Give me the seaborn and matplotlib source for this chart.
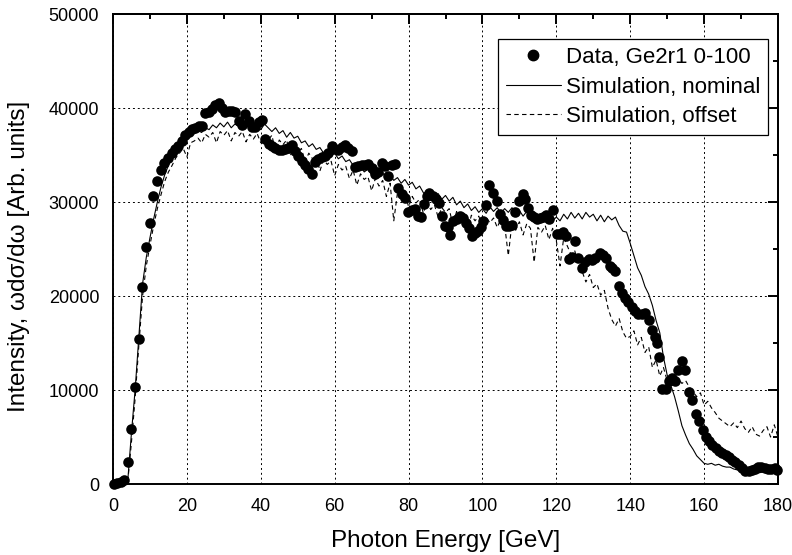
import numpy as np
import pandas as pd
import matplotlib
matplotlib.use("Agg")
import matplotlib.pyplot as plt
import seaborn as sns
from matplotlib.lines import Line2D
from matplotlib.ticker import MultipleLocator, NullFormatter

# ---------------- data ----------------
data_energy = [
    0.3, 1.2, 2.1, 3.1, 4.1, 5.0, 6.0, 7.0, 7.9, 9.0, 9.9, 10.8, 12.0, 13.0, 13.9, 14.9,
    15.9, 16.8, 17.7, 18.6, 19.5, 20.5, 21.4, 22.3, 23.2, 24.1, 25.0, 25.9, 26.8, 27.7,
    28.6, 29.5, 30.4, 31.3, 32.2, 33.1, 34.0, 34.9, 35.8, 36.7, 37.6, 38.5, 39.4, 40.3,
    41.2, 42.1, 43.0, 43.9, 44.8, 45.7, 46.6, 47.5, 48.4, 49.3, 50.2, 51.1, 52.0, 52.9,
    53.8, 54.7, 55.6, 56.5, 57.4, 58.3, 59.2, 60.1, 61.0, 61.9, 62.8, 63.7, 64.6, 65.5,
    66.4, 67.3, 68.2, 69.1, 70.0, 70.9, 71.8, 72.7, 73.6, 74.5, 75.4, 76.3, 77.2, 78.1,
    79.0, 79.9, 80.8, 81.7, 82.6, 83.3, 84.1, 84.9, 85.6, 86.5, 87.3, 88.2, 89.0, 89.9,
    90.6, 91.2, 92.1, 93.0, 93.9, 94.7, 95.6, 96.4, 97.2, 98.1, 98.9, 99.6, 100.2, 101.0,
    101.9, 102.9, 103.9, 104.8, 105.6, 106.4, 107.2, 107.9, 108.9, 109.8, 110.9, 111.6,
    112.3, 113.2, 114.0, 114.8, 115.6, 116.5, 117.2, 118.0, 119.0, 120.1, 121.0, 121.9,
    122.7, 123.4, 124.3, 125.0, 125.9, 126.9, 127.8, 128.8, 129.7, 130.6, 131.7, 132.6,
    133.4, 134.4, 135.2, 135.9, 137.0, 137.9, 138.7, 139.5, 140.4, 141.3, 142.2, 143.1,
    144.0, 145.0, 145.8, 146.6, 147.2, 147.9, 148.6, 149.7, 150.6, 151.4, 152.2, 153.0,
    153.9, 154.9, 155.8, 156.8, 157.7, 158.7, 159.6, 160.5, 161.4, 162.2, 163.1, 164.0,
    164.9, 165.8, 166.7, 167.6, 168.5, 169.4, 170.3, 171.2, 172.1, 173.0, 173.9, 174.7,
    175.5, 176.4, 177.3, 178.2, 179.1, 179.8,
]
data_intensity = [
    50, 100, 200, 400, 2300, 5850, 10300, 15400, 21000, 25200, 27800, 30600, 32200, 33400, 34100, 34700,
    35200, 35600, 36000, 36500, 37100, 37500, 37800, 37900, 38100, 38100, 39500, 39600, 39900, 40300,
    40500, 40000, 39600, 39700, 39700, 39600, 38600, 38200, 39400, 38600, 38000, 38000, 38500, 38700,
    36700, 36200, 36000, 35700, 35500, 35500, 35600, 35700, 36100, 35400, 34900, 34400, 33900, 33500,
    33000, 34300, 34600, 34800, 34900, 35200, 36000, 35600, 35500, 35900, 36100, 35700, 35400, 33700,
    33800, 33900, 33900, 34000, 33600, 33000, 33200, 34200, 33800, 32800, 33900, 34000, 31500, 30900,
    30400, 28900, 29100, 29300, 28500, 28400, 29800, 30600, 31000, 30600, 30300, 29900, 28500, 27500,
    27300, 26500, 28000, 28200, 28500, 28300, 27800, 27200, 26400, 26700, 26900, 27300, 28000, 29700,
    31800, 31000, 30100, 28700, 28100, 27500, 27400, 27600, 28900, 30100, 30900, 30300,
    29400, 28600, 28400, 28200, 28300, 28400, 28600, 28200, 29200, 26600, 26600, 26800,
    26400, 23900, 24100, 25900, 24000, 23000, 23600, 23900, 23800, 24000, 24600, 24400,
    24000, 23200, 23000, 22700, 21100, 20300, 19800, 19400, 18800, 18400, 18100, 18100,
    18200, 17400, 16400, 15600, 15000, 13500, 10100, 10100, 11000, 11300, 11000, 12100,
    13100, 12100, 9800, 8900, 7400, 6700, 5700, 5000, 4600, 4200, 3800, 3500,
    3250, 3050, 2850, 2600, 2300, 2000, 1700, 1400, 1400, 1500, 1600, 1800,
    1800, 1700, 1600, 1600, 1700, 1500,
]

sim_energy = list(range(0, 181))
sim_nominal = [
    0, 0, 0, 50, 400, 5500, 10100, 15700, 21300, 24100,
    26200, 28200, 30000, 31600, 32900, 33900, 34700, 35400, 36000, 36400,
    36800, 37100, 37300, 37600, 37400, 37900, 37700, 38200, 37900, 38400,
    38000, 38500, 37900, 38300, 38100, 37700, 38200, 37800, 37600, 38100,
    37700, 38300, 37900, 37500, 37900, 37300, 37600, 36900, 37400, 36800,
    37000, 36300, 36500, 35900, 36200, 35600, 35800, 35200, 35500, 34900,
    35200, 34600, 34900, 34300, 34500, 33900, 33400, 33800, 33200, 33500,
    32900, 33300, 32700, 33100, 32500, 32900, 32300, 32600, 32000, 32400,
    31800, 32100, 31400, 31700, 31000, 30600, 31100, 30500, 30900, 30300,
    30700, 30100, 30500, 29700, 30100, 29400, 29800, 29100, 29500, 28900,
    29300, 28800, 29500, 29000, 29400, 28800, 29300, 28900, 29400, 28700,
    29100, 28500, 29000, 28400, 28800, 28300, 28700, 28100, 28600, 28000,
    28400, 28000, 28700, 28200, 28900, 28300, 28800, 28200, 28900, 28400,
    28700, 28000, 28600, 27900, 28500, 28100, 28400, 27500, 26900, 26800,
    25600, 24300, 23000, 22200, 21000, 20200, 19000, 17400, 16100, 13500,
    11600, 10500, 9300, 7800, 6200, 5200, 4300, 3700, 3000, 2600,
    2200, 2100, 2200, 2000, 2100, 1900, 1800, 1800, 1600, 1500,
    1400, 1300, 1300, 1200, 1300, 1200, 1300, 1200, 1300, 1200,
    1300,
]
sim_offset = [
    0, 0, 0, 0, 300, 4500, 9200, 14800, 20000, 23200,
    25400, 27500, 29300, 30800, 32200, 33200, 33900, 34700, 35200, 35700,
    34800, 36300, 36500, 36800, 36300, 37200, 36900, 37400, 36300, 37500,
    37100, 37600, 36500, 37400, 37000, 37500, 36400, 37200, 36700, 37300,
    36300, 37000, 36600, 37100, 35400, 36600, 36100, 36600, 34900, 36200,
    35300, 35700, 34300, 35200, 34600, 35000, 33300, 34500, 34000, 34400,
    32800, 34000, 33400, 33800, 32500, 33400, 31800, 33000, 32400, 32700,
    31200, 32500, 31700, 32300, 30600, 32000, 28000, 31000, 30200, 31000,
    29500, 30600, 29900, 30300, 28800, 30000, 29200, 29700, 28400, 29400,
    28900, 29300, 27500, 29000, 28300, 28800, 27000, 28600, 28000, 28500,
    27400, 28400, 27800, 28300, 27300, 28200, 27600, 24300, 27800, 27000,
    27900, 26500, 27700, 27200, 23600, 27300, 26800, 27500, 26000, 27200,
    25900, 23200, 26200, 25300, 24400, 24800, 23300, 22600, 21500, 22300,
    20900, 21300, 20100, 20600, 18700, 17500, 16800, 17600, 16200, 15500,
    15700, 16300, 14800, 15600, 14000, 14600, 12400, 13200, 11500, 12400,
    11000, 11500, 10600, 11200, 10700, 11000, 10300, 9800, 9300, 9700,
    8400, 8800, 8100, 7600, 7000, 6700, 6400, 6100, 6500, 6000,
    6700, 5900, 5500, 6100, 5300, 5100, 5700, 6100, 5000, 6300,
    5000,
]

x_ticks = [0, 20, 40, 60, 80, 100, 120, 140, 160, 180]
y_ticks = [0, 10000, 20000, 30000, 40000, 50000]
labels = ["Data, Ge2r1 0-100", "Simulation, nominal", "Simulation, offset"]

df_data = pd.DataFrame({"E": data_energy, "I": data_intensity})
df_sim = pd.DataFrame({"E": sim_energy, "nominal": sim_nominal, "offset": sim_offset})

# ---------------- style ----------------
sns.set_theme(style="white")
plt.rcParams["font.family"] = ["Liberation Sans", "DejaVu Sans"]
plt.rcParams["axes.linewidth"] = 1.4
plt.rcParams["text.color"] = "black"
plt.rcParams["axes.labelcolor"] = "black"
plt.rcParams["xtick.color"] = "black"
plt.rcParams["ytick.color"] = "black"
plt.rcParams["axes.edgecolor"] = "black"

fig = plt.figure(figsize=(7.92, 5.55), dpi=100)
ax = fig.add_axes([0.1427, 0.1279, 0.8396, 0.8468])

sns.lineplot(data=df_sim, x="E", y="nominal", ax=ax, color="black", linewidth=0.8,
             estimator=None, sort=False)
sns.lineplot(data=df_sim, x="E", y="offset", ax=ax, color="black", linewidth=0.8,
             linestyle=(0, (4, 3)), estimator=None, sort=False)
sns.scatterplot(data=df_data, x="E", y="I", ax=ax, color="black", s=58,
                edgecolor="black", linewidth=0, zorder=3, clip_on=False)

ax.set_xlim(0, 180)
ax.set_ylim(0, 50000)
ax.set_xticks(x_ticks)
ax.set_yticks(y_ticks)
ax.set_xticklabels([str(v) for v in x_ticks])
ax.set_yticklabels([str(v) for v in y_ticks])
ax.xaxis.set_minor_locator(MultipleLocator(10))
ax.yaxis.set_minor_locator(MultipleLocator(5000))

ax.tick_params(axis="both", which="major", direction="out", length=7.5, width=1.4,
               labelsize=13, colors="black", labelcolor="black", pad=2.5)
ax.tick_params(axis="both", which="minor", direction="out", length=4, width=1.4,
               colors="black")
ax.tick_params(top=False, right=False, which="both")

for s in ax.spines.values():
    s.set_visible(True)
    s.set_color("black")
    s.set_linewidth(1.4)

# inward ticks on top and right
secx = ax.secondary_xaxis("top")
secx.xaxis.set_major_locator(MultipleLocator(20))
secx.xaxis.set_minor_locator(MultipleLocator(10))
secx.xaxis.set_major_formatter(NullFormatter())
secx.tick_params(which="major", direction="in", length=7, width=1.4, colors="black")
secx.tick_params(which="minor", direction="in", length=3.5, width=1.4, colors="black")
secx.spines["top"].set_linewidth(1.4)

secy = ax.secondary_yaxis("right")
secy.yaxis.set_major_locator(MultipleLocator(10000))
secy.yaxis.set_minor_locator(MultipleLocator(5000))
secy.yaxis.set_major_formatter(NullFormatter())
secy.tick_params(which="major", direction="in", length=7, width=1.4, colors="black")
secy.tick_params(which="minor", direction="in", length=3.5, width=1.4, colors="black")
secy.spines["right"].set_linewidth(1.4)

ax.grid(True, which="major", color="black", linestyle=(0, (2, 3)), linewidth=0.7)
ax.set_axisbelow(True)

ax.set_xlabel("Photon Energy [GeV]", fontsize=17.5, labelpad=11, color="black")
ax.set_ylabel("Intensity, \u03c9d\u03c3/d\u03c9 [Arb. units]", fontsize=17.5,
              labelpad=5, color="black")
ax.yaxis.set_label_coords(-0.125, 0.485)

handles = [
    Line2D([0], [0], marker="o", color="black", linestyle="none", markersize=7.5),
    Line2D([0], [0], color="black", linewidth=0.8),
    Line2D([0], [0], color="black", linewidth=0.8, linestyle=(0, (4, 3))),
]
leg = ax.legend(handles, labels, loc="upper right", bbox_to_anchor=(0.9854, 0.946),
                fontsize=16, frameon=True, fancybox=False, edgecolor="black",
                framealpha=1, borderpad=0.35, handlelength=2.45, handletextpad=0.25,
                labelspacing=0.38, borderaxespad=0)
leg.get_frame().set_linewidth(0.9)
leg.set_zorder(5)
for t in leg.get_texts():
    t.set_color("black")

fig.savefig("out.png", dpi=100)
